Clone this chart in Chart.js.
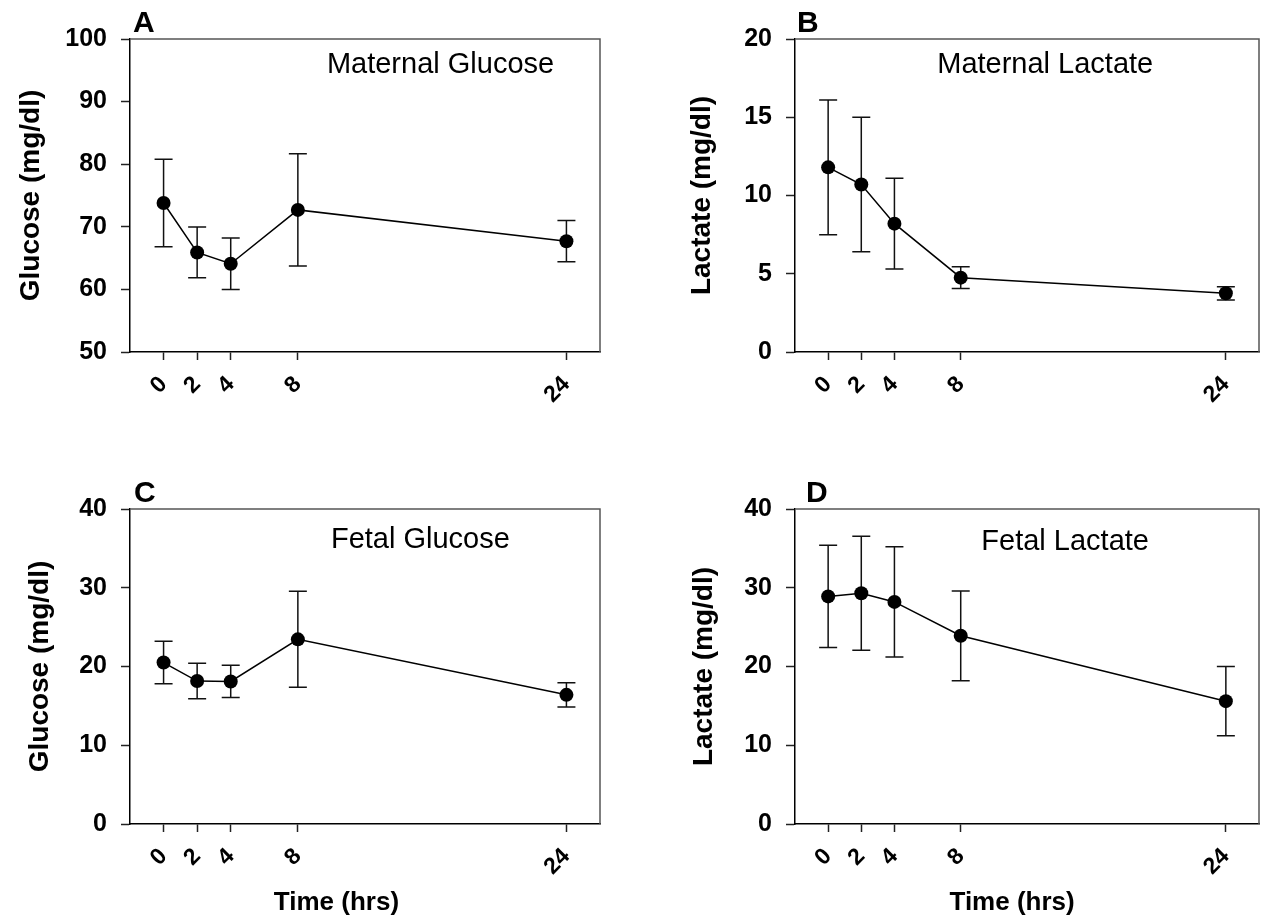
<!DOCTYPE html>
<html>
<head>
<meta charset="utf-8">
<script src="https://cdn.jsdelivr.net/npm/chart.js@4.4.1/dist/chart.umd.min.js"></script>
<style>
body{margin:0;background:#fff;width:1266px;height:922px;position:relative;overflow:hidden;}
canvas{position:absolute;}
</style>
</head>
<body>
<canvas id="chartA" width="630" height="460" style="left:0;top:0"></canvas>
<canvas id="chartB" width="636" height="460" style="left:630px;top:0"></canvas>
<canvas id="chartC" width="630" height="462" style="left:0;top:460px"></canvas>
<canvas id="chartD" width="636" height="462" style="left:630px;top:460px"></canvas>
<script>
// sampling times (hrs)
const hours=[0,2,4,8,24];
const xTicks=[0,2,4,8,24];

// means and SD, mg/dl
const maternalGlucose=[73.8,65.9,64.1,72.7,67.7];
const maternalGlucoseSD=[7.0,4.05,4.1,8.95,3.3];

const maternalLactate=[11.8,10.7,8.2,4.75,3.75];
const maternalLactateSD=[4.3,4.3,2.9,0.7,0.42];

const fetalGlucose=[20.5,18.15,18.1,23.45,16.4];
const fetalGlucoseSD=[2.7,2.25,2.05,6.1,1.55];

const fetalLactate=[28.9,29.3,28.2,23.9,15.6];
const fetalLactateSD=[6.5,7.25,7.0,5.7,4.4];

Chart.defaults.font.family='"Liberation Sans", Arial, sans-serif';
Chart.defaults.color='#000';

// error bars, frame, panel letter and inset label
const panelDecor={
id:'panelDecor',
beforeDatasetsDraw(chart,args,opts){
const {ctx,chartArea:a,scales:{x,y}}=chart;
ctx.save();
ctx.strokeStyle='#555';
ctx.lineWidth=1.5;
ctx.beginPath();
ctx.moveTo(a.left,a.top);
ctx.lineTo(a.right,a.top);
ctx.lineTo(a.right,a.bottom);
ctx.stroke();

ctx.strokeStyle='#111';
ctx.lineWidth=1.5;
chart.data.datasets.forEach(ds=>{
ds.data.forEach((p,i)=>{
const px=x.getPixelForValue(p.x);
const hi=y.getPixelForValue(p.y+ds.sd[i]);
const lo=y.getPixelForValue(p.y-ds.sd[i]);
ctx.beginPath();
ctx.moveTo(px,hi);ctx.lineTo(px,lo);
ctx.moveTo(px-9,hi);ctx.lineTo(px+9,hi);
ctx.moveTo(px-9,lo);ctx.lineTo(px+9,lo);
ctx.stroke();
});
});
ctx.restore();
},
afterDraw(chart,args,opts){
const {ctx,chartArea:a,scales:{x,y}}=chart;
ctx.save();
ctx.fillStyle='#000';
ctx.textBaseline='alphabetic';
ctx.textAlign='left';
ctx.font='bold 30px "Liberation Sans", Arial, sans-serif';
ctx.fillText(opts.letter,a.left+opts.letterDx,a.top-7);

ctx.textAlign='center';
ctx.font='29px "Liberation Sans", Arial, sans-serif';
ctx.fillText(opts.label,x.getPixelForValue(opts.labelAt[0]),y.getPixelForValue(opts.labelAt[1]));

if(opts.xTitle){
ctx.font='bold 26px "Liberation Sans", Arial, sans-serif';
ctx.fillText(opts.xTitle,x.getPixelForValue(opts.xTitleAt),a.bottom+86);
}
ctx.restore();
}
};

function buildChart(id,cfg){
return new Chart(document.getElementById(id),{
type:'line',
data:{
datasets:[{
data:hours.map((h,i)=>({x:h,y:cfg.values[i]})),
sd:cfg.sd,
borderColor:'#000',
borderWidth:1.5,
pointRadius:7,
pointBackgroundColor:'#000',
pointBorderColor:'#000',
pointBorderWidth:0,
tension:0
}]
},
options:{
responsive:false,
animation:false,
devicePixelRatio:1,
layout:{padding:{top:cfg.top,right:cfg.right,left:0,bottom:0}},
plugins:{
legend:{display:false},
tooltip:{enabled:false},
panelDecor:{letter:cfg.letter,letterDx:cfg.letterDx,label:cfg.label,labelAt:cfg.labelAt,xTitle:cfg.xTitle,xTitleAt:cfg.xTitleAt}
},
scales:{
x:{
type:'linear',
min:-2,
max:26,
afterBuildTicks:s=>{s.ticks=xTicks.map(v=>({value:v}));},
afterFit:s=>{s.height=cfg.xHeight;},
grid:{drawOnChartArea:false,tickLength:8,tickColor:'#222',tickWidth:1.5},
border:{color:'#000',width:1.5},
ticks:{autoSkip:false,minRotation:45,maxRotation:45,padding:11,color:'#000',font:{size:23,weight:'bold'}}
},
y:{
min:cfg.min,
max:cfg.max,
afterFit:s=>{s.width=cfg.yWidth;},
grid:{drawOnChartArea:false,tickLength:9,tickColor:'#222',tickWidth:1.5},
border:{color:'#000',width:1.5},
ticks:{stepSize:cfg.step,padding:14,color:'#000',font:{size:25,weight:'bold'}},
title:{display:true,text:cfg.yTitle,color:'#000',font:{size:28,weight:'bold'},padding:{top:cfg.titlePad,bottom:0}}
}
}
},
plugins:[panelDecor]
});
}

buildChart('chartA',{
values:maternalGlucose,sd:maternalGlucoseSD,min:50,max:100,step:10,
letter:'A',letterDx:3,label:'Maternal Glucose',labelAt:[16.5,94.5],yTitle:'Glucose (mg/dl)',
top:39,right:30,yWidth:130,xHeight:108,titlePad:14
});

buildChart('chartB',{
values:maternalLactate,sd:maternalLactateSD,min:0,max:20,step:5,
letter:'B',letterDx:2,label:'Maternal Lactate',labelAt:[13.1,17.8],yTitle:'Lactate (mg/dl)',
top:39,right:1,yWidth:165,xHeight:108,titlePad:55
});

buildChart('chartC',{
values:fetalGlucose,sd:fetalGlucoseSD,min:0,max:40,step:10,
letter:'C',letterDx:4,label:'Fetal Glucose',labelAt:[15.3,35.0],yTitle:'Glucose (mg/dl)',
xTitle:'Time (hrs)',xTitleAt:10.3,
top:49,right:30,yWidth:130,xHeight:98,titlePad:23
});

buildChart('chartD',{
values:fetalLactate,sd:fetalLactateSD,min:0,max:40,step:10,
letter:'D',letterDx:11,label:'Fetal Lactate',labelAt:[14.3,34.85],yTitle:'Lactate (mg/dl)',
xTitle:'Time (hrs)',xTitleAt:11.1,
top:49,right:1,yWidth:165,xHeight:98,titlePad:57
});
</script>
</body>
</html>
